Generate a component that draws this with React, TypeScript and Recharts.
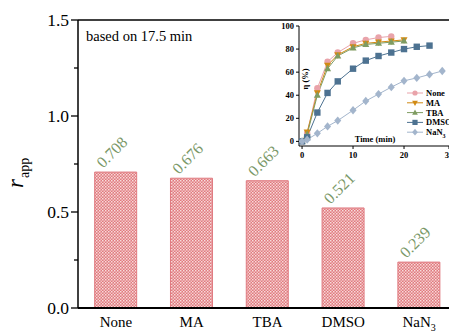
import React from "react";
import {
  BarChart, Bar, XAxis, YAxis, LabelList, ReferenceLine,
  LineChart, Line,
} from "recharts";

const categories = ["None", "MA", "TBA", "DMSO", "NaN3"];
const rappValues = [0.708, 0.676, 0.663, 0.521, 0.239];
const yTicks = [0, 0.25, 0.5, 0.75, 1.0, 1.25, 1.5];
const yMajor = [0, 0.5, 1.0, 1.5];

const times = [0, 1, 3, 5, 7, 10, 12.5, 15, 17.5, 20, 22.5, 25, 27.5];
const etaNone = [0, 7, 46, 69, 77, 85, 88, 90, 91];
const etaMA = [0, 8, 42, 66, 75, 82, 85, 86, 87, 88];
const etaTBA = [0, 6, 40, 63, 74, 81, 84, 85, 86, 87];
const etaDMSO = [0, 3.5, 25, 42, 52, 63, 70, 74, 77, 80, 82, 83];
const etaNaN3 = [0, 1.5, 7, 13, 18, 27, 35, 41, 47, 52.5, 55, 58, 61];
const insetXTicks = [0, 10, 20, 30];
const insetYTicks = [0, 20, 40, 60, 80, 100];

const barData = categories.map((c, i) => ({ cat: c, v: rappValues[i] }));
const lineData = times.map((t, i) => ({
  x: t,
  None: etaNone[i],
  MA: etaMA[i],
  TBA: etaTBA[i],
  DMSO: etaDMSO[i],
  NaN3: etaNaN3[i],
}));

const FONT = "Liberation Serif";

const series = [
  { name: "None", color: "#e9a3aa", marker: "circle" },
  { name: "MA", color: "#d18a14", marker: "tdown" },
  { name: "TBA", color: "#7f9c62", marker: "tup" },
  { name: "DMSO", color: "#4d7291", marker: "square" },
  { name: "NaN3", color: "#a3b5cc", marker: "diamond" },
];

function Marker(props: any) {
  const { cx, cy, type, color } = props;
  const s = props.s || 3.2;
  if (cx == null || cy == null || Number.isNaN(cx) || Number.isNaN(cy)) return <g />;
  if (type === "circle") return <circle cx={cx} cy={cy} r={s} fill={color} />;
  if (type === "square") return <rect x={cx - s} y={cy - s} width={2 * s} height={2 * s} fill={color} />;
  if (type === "tup")
    return <path d={`M${cx},${cy - s * 1.2}L${cx + s * 1.1},${cy + s * 0.8}L${cx - s * 1.1},${cy + s * 0.8}Z`} fill={color} />;
  if (type === "tdown")
    return <path d={`M${cx},${cy + s * 1.2}L${cx + s * 1.1},${cy - s * 0.8}L${cx - s * 1.1},${cy - s * 0.8}Z`} fill={color} />;
  return <path d={`M${cx},${cy - s * 1.3}L${cx + s * 1.1},${cy}L${cx},${cy + s * 1.3}L${cx - s * 1.1},${cy}Z`} fill={color} />;
}

function YTick(props: any) {
  const { x, y, payload } = props;
  const major = yMajor.includes(payload.value);
  return (
    <g>
      <line x1={x - (major ? 7 : 4)} x2={x} y1={y} y2={y} stroke="#000" strokeWidth={1.3} />
      {major && (
        <text x={x - 9} y={y} dy={6} textAnchor="end" fontFamily={FONT} fontSize={17.5} fill="#000">
          {payload.value.toFixed(1)}
        </text>
      )}
    </g>
  );
}

function XTick(props: any) {
  const { x, y, payload } = props;
  const v: string = payload.value;
  return (
    <text x={x} y={y + 19} textAnchor="middle" fontFamily={FONT} fontSize={15} fill="#000">
      {v === "NaN3" ? (
        <>
          <tspan>NaN</tspan>
          <tspan fontSize={10} dy={4}>3</tspan>
        </>
      ) : (
        v
      )}
    </text>
  );
}

function InsetYTick(props: any) {
  const { x, y, payload } = props;
  return (
    <g>
      <line x1={x - 3} x2={x} y1={y} y2={y} stroke="#000" strokeWidth={1} />
      <text x={x - 5} y={y} dy={3} textAnchor="end" fontFamily={FONT} fontWeight="bold" fontSize={8.5} fill="#000">
        {payload.value}
      </text>
    </g>
  );
}

function InsetXTick(props: any) {
  const { x, y, payload } = props;
  return (
    <g>
      <line x1={x} x2={x} y1={y} y2={y + 3} stroke="#000" strokeWidth={1} />
      <text x={x} y={y + 12} textAnchor="middle" fontFamily={FONT} fontWeight="bold" fontSize={8.5} fill="#000">
        {payload.value}
      </text>
    </g>
  );
}

function YTitle() {
  return (
    <text x={23} y={188} transform="rotate(-90 23 188)" fontFamily={FONT} fill="#000">
      <tspan fontSize={23} fontStyle="italic">r</tspan>
      <tspan fontSize={14} dy={6} dx={1}>app</tspan>
    </text>
  );
}

function Overlay() {
  const legendX = 407;
  const legendY0 = 93;
  return (
    <svg width={457} height={333} style={{ position: "absolute", left: 0, top: 0, pointerEvents: "none" }}>
      <text x={86} y={41} fontFamily={FONT} fontSize={14.5} fill="#000">based on 17.5 min</text>
      <text x={375} y={142} textAnchor="middle" fontFamily={FONT} fontWeight="bold" fontSize={8.5} fill="#000">
        Time (min)
      </text>
      <text x={308} y={79} transform="rotate(-90 308 79)" textAnchor="middle" fontFamily={FONT} fontWeight="bold" fontSize={8.5} fill="#000">
        {"\u03B7 (%)"}
      </text>
      {series.map((s, i) => {
        const yy = legendY0 + i * 9.8;
        return (
          <g key={s.name}>
            <line x1={legendX} x2={legendX + 16} y1={yy} y2={yy} stroke={s.color} strokeWidth={1} />
            <Marker cx={legendX + 8} cy={yy} type={s.marker} color={s.color} s={2.6} />
            <text x={legendX + 19} y={yy + 3} fontFamily={FONT} fontWeight="bold" fontSize={8.5} fill="#000">
              {s.name === "NaN3" ? (
                <>
                  <tspan>NaN</tspan>
                  <tspan fontSize={6} dy={2.5}>3</tspan>
                </>
              ) : (
                s.name
              )}
            </text>
          </g>
        );
      })}
    </svg>
  );
}

export default function App() {
  return (
    <div style={{ position: "relative", width: 457, height: 333, margin: "-8px 0 0 -8px", fontFamily: FONT }}>
      <BarChart width={457} height={333} data={barData} margin={{ top: 20, right: 0, bottom: 0, left: 0 }} barCategoryGap="22%" style={{ fontFamily: FONT }}>
        <defs>
          <pattern id="hatch" width="3" height="3" patternUnits="userSpaceOnUse">
            <rect width="3" height="3" fill="#e07a7e" />
            <rect x="0" y="0" width="1.5" height="1.5" fill="#f8dcdc" />
            <rect x="1.5" y="1.5" width="1.5" height="1.5" fill="#f3c4c5" />
          </pattern>
        </defs>
        <XAxis dataKey="cat" tick={<XTick />} tickLine={false} tickSize={0} tickMargin={0} axisLine={{ stroke: "#000", strokeWidth: 2 }} height={25} interval={0} />
        <YAxis
          domain={[0, 1.5]}
          ticks={yTicks}
          width={78}
          tick={<YTick />}
          tickLine={false}
          tickSize={0}
          tickMargin={0}
          axisLine={{ stroke: "#000", strokeWidth: 1.5 }}
          interval={0}
          label={{ value: "r app", angle: -90, position: "insideLeft", content: <YTitle /> }}
        />
        <ReferenceLine y={1.5} stroke="#000" strokeWidth={1.5} />
        <Bar dataKey="v" fill="url(#hatch)" stroke="#e07a80" strokeWidth={1} isAnimationActive={false}>
          <LabelList
            dataKey="v"
            position="top"
            offset={16}
            angle={-45}
            fill="#7a9868"
            fontSize={16}
            fontFamily={FONT}
            formatter={(v: any) => Number(v).toFixed(3)}
          />
        </Bar>
      </BarChart>
      <div style={{ position: "absolute", left: 270, top: 0 }}>
        <LineChart width={187} height={166} data={lineData} margin={{ top: 26, right: 2, bottom: 0, left: 0 }} style={{ fontFamily: FONT }}>
          <XAxis
            type="number"
            dataKey="x"
            domain={[-0.6, 30]}
            ticks={insetXTicks}
            allowDataOverflow
            tick={<InsetXTick />}
            tickLine={false}
            tickSize={0}
            tickMargin={0}
            height={20}
            axisLine={{ stroke: "#000", strokeWidth: 1 }}
          />
          <YAxis
            type="number"
            domain={[-4, 100]}
            ticks={insetYTicks}
            allowDataOverflow
            width={29}
            tick={<InsetYTick />}
            tickLine={false}
            tickSize={0}
            tickMargin={0}
            axisLine={{ stroke: "#000", strokeWidth: 1 }}
          />
          {series.map((s) => (
            <Line
              key={s.name}
              dataKey={s.name}
              type="linear"
              stroke={s.color}
              strokeWidth={1}
              isAnimationActive={false}
              dot={<Marker type={s.marker} color={s.color} />}
              activeDot={false}
            />
          ))}
        </LineChart>
      </div>
      <Overlay />
    </div>
  );
}
